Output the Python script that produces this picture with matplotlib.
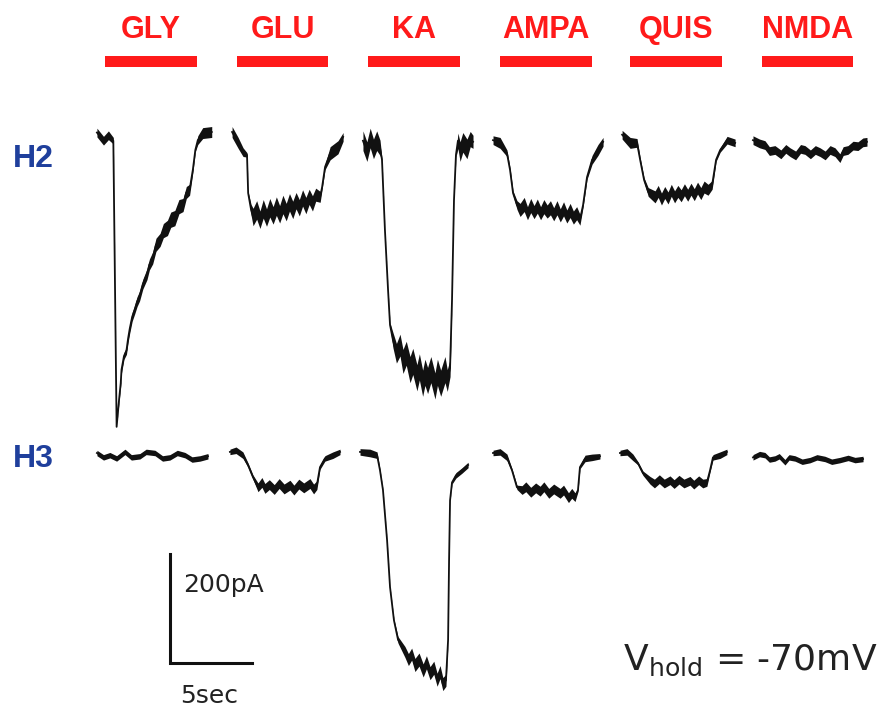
"""Whole-cell currents of H2 / H3 cells to glutamate agonists (Vhold = -70 mV)."""
import matplotlib
matplotlib.use("Agg")
import matplotlib.pyplot as plt
import numpy as np

DRUGS = ["GLY", "GLU", "KA", "AMPA", "QUIS", "NMDA"]
ROWS = ["H2", "H3"]
ROW_OFFSET = [0, -582]          # pA, vertical spacing between rows

# application bars (s)
BAR_START = [6.40, 14.45, 22.44, 30.49, 38.41, 46.46]
BAR_END = [12.01, 20.00, 28.05, 36.10, 44.02, 52.01]

# trace start times (s)
START_H2 = [5.91, 14.15, 22.07, 30.06, 37.93, 45.91]
START_H3 = [5.91, 14.02, 21.95, 30.06, 37.80, 45.91]

# H2 traces: time (s), current (pA), noise half-width (pA)
GLY_H2_T = [0, 0.4, 0.7, 1.0, 1.2, 1.35, 1.45, 1.5, 1.65, 1.8, 1.9, 2.0, 2.15, 2.3, 2.45, 2.6, 2.8,
            3.05, 3.2, 3.4, 3.6, 3.85, 4.05, 4.3, 4.5, 4.75, 5.0, 5.25, 5.45, 5.65, 5.85, 6.0, 6.15, 6.45, 7.0]
GLY_H2_I = [10, -5, 5, -5, -530, -480, -450, -425, -400, -390, -368, -350, -328, -315, -300, -290, -268,
            -250, -232, -220, -196, -187, -170, -165, -150, -147, -126, -123, -100, -95, -58, -22, -4, 9, 11]
GLY_H2_N = [8, 8, 8, 6, 0, 4, 5, 6, 6, 7, 7, 8, 8, 8, 9, 9, 9,
            10, 10, 11, 12, 12, 13, 14, 14, 14, 13, 12, 11, 10, 5, 3, 8, 10, 10]

GLU_H2_T = [0, 0.37, 0.67, 0.91, 0.98, 1.16, 1.28, 1.5, 1.7, 1.9, 2.1, 2.3, 2.5, 2.7, 2.9, 3.1, 3.3,
            3.5, 3.7, 3.9, 4.1, 4.3, 4.5, 4.7, 4.9, 5.1, 5.37, 5.49, 5.67, 5.98, 6.46, 6.77]
GLU_H2_I = [11, -9, -26, -31, -101, -132, -145, -132, -150, -130, -146, -128, -142, -125, -140, -122, -136,
            -118, -132, -115, -128, -110, -124, -108, -120, -104, -108, -90, -53, -28, -17, 2]
GLU_H2_N = [10, 10, 8, 4, 2, 10, 16, 17, 16, 17, 16, 17, 16, 17, 16, 17, 16,
            16, 16, 15, 15, 15, 15, 14, 14, 12, 10, 4, 5, 12, 12, 8]

KA_H2_T = [0.06, 0.3, 0.5, 0.7, 0.9, 1.10, 1.22, 1.40, 1.59, 1.71, 1.89, 2.1, 2.32, 2.5, 2.7, 2.93, 3.1,
           3.35, 3.5, 3.7, 3.84, 4.0, 4.2, 4.45, 4.6, 4.8, 5.06, 5.2, 5.37, 5.49, 5.61, 5.73, 5.85, 5.98,
           6.15, 6.40, 6.6, 6.77]
KA_H2_I = [-5, -25, 0, -20, -5, -18, -40, -169, -279, -343, -371, -395, -380, -410, -395, -425, -410,
           -440, -420, -450, -430, -445, -425, -455, -430, -450, -425, -445, -422, -297, -114, -31, -5, -25,
           -8, -20, -2, -7]
KA_H2_N = [18, 18, 18, 18, 18, 14, 2, 1, 1, 4, 14, 18, 20, 22, 22, 24, 24,
           24, 24, 24, 24, 24, 24, 24, 24, 24, 24, 20, 16, 2, 1, 4, 14, 18,
           18, 18, 14, 12]

AMPA_H2_T = [0, 0.43, 0.85, 1.04, 1.22, 1.46, 1.65, 1.9, 2.1, 2.3, 2.5, 2.7, 2.9, 3.1, 3.3, 3.5, 3.7,
             3.9, 4.1, 4.3, 4.5, 4.7, 4.9, 5.1, 5.30, 5.49, 5.73, 6.04, 6.40, 6.71]
AMPA_H2_I = [-4, -9, -28, -59, -101, -123, -132, -122, -138, -124, -136, -125, -138, -126, -135, -128, -140,
             -128, -142, -130, -144, -133, -146, -138, -150, -123, -72, -40, -22, -7]
AMPA_H2_N = [8, 10, 6, 4, 4, 8, 12, 13, 12, 13, 12, 13, 12, 13, 12, 13, 12,
             13, 12, 13, 12, 13, 12, 12, 10, 4, 4, 8, 10, 8]

QUIS_H2_T = [0, 0.49, 0.91, 1.10, 1.34, 1.59, 2.01, 2.2, 2.4, 2.6, 2.8, 3.0, 3.2, 3.4, 3.6, 3.8, 4.0,
             4.2, 4.4, 4.6, 4.8, 5.0, 5.24, 5.49, 5.73, 5.98, 6.40, 6.89]
QUIS_H2_I = [6, -9, -9, -40, -77, -99, -108, -98, -112, -100, -110, -96, -108, -98, -106, -95, -105,
             -94, -104, -92, -102, -90, -95, -86, -40, -22, -4, -9]
QUIS_H2_N = [8, 10, 8, 4, 4, 8, 11, 11, 11, 11, 11, 11, 11, 11, 11, 11, 11,
             11, 11, 11, 11, 11, 10, 8, 3, 4, 7, 7]

NMDA_H2_T = [0, 0.4, 0.73, 1.0, 1.34, 1.7, 2.0, 2.26, 2.6, 2.9, 3.17, 3.5, 3.8, 4.09, 4.4, 4.7, 5.0,
             5.30, 5.5, 5.79, 6.1, 6.40, 6.7, 6.95]
NMDA_H2_I = [-4, -10, -13, -24, -22, -30, -20, -26, -32, -20, -22, -30, -22, -26, -32, -22, -26,
             -37, -24, -22, -14, -15, -8, -7]
NMDA_H2_N = [8] * 24

# H3 traces
GLY_H3_T = [0, 0.4, 0.79, 1.2, 1.71, 2.1, 2.62, 3.0, 3.54, 4.0, 4.45, 4.9, 5.37, 5.8, 6.28, 6.77]
GLY_H3_I = [4, -4, 0, -6, 6, -4, -2, 6, 4, -6, -4, 4, 0, -8, -6, -2]
GLY_H3_N = [5] * 16

GLU_H3_T = [0, 0.37, 0.79, 1.10, 1.40, 1.71, 1.95, 2.13, 2.4, 2.7, 3.0, 3.3, 3.66, 3.9, 4.2, 4.5,
            4.88, 5.1, 5.30, 5.49, 5.79, 6.28, 6.71]
GLU_H3_I = [6, 9, 0, -18, -40, -59, -50, -61, -54, -63, -52, -62, -55, -64, -53, -60,
            -52, -62, -55, -22, -6, 0, 6]
GLU_H3_N = [5, 6, 6, 4, 4, 8, 9, 9, 9, 9, 9, 9, 9, 9, 9, 9,
            9, 9, 8, 4, 5, 6, 5]

KA_H3_T = [0, 0.61, 1.04, 1.22, 1.40, 1.65, 1.83, 2.07, 2.32, 2.74, 2.95, 3.15, 3.35, 3.6, 3.85, 4.05,
           4.27, 4.5, 4.7, 4.88, 5.05, 5.24, 5.37, 5.43, 5.49, 5.61, 5.85, 6.22, 6.59]
KA_H3_I = [6, 4, 0, -28, -64, -156, -242, -303, -339, -361, -375, -365, -385, -375, -395, -380,
           -400, -390, -412, -398, -420, -413, -339, -193, -83, -50, -37, -28, -18]
KA_H3_N = [6, 7, 6, 2, 1, 1, 1, 2, 6, 10, 11, 11, 12, 12, 12, 12,
           12, 12, 12, 12, 12, 11, 1, 1, 1, 3, 5, 5, 5]

AMPA_H3_T = [0, 0.43, 0.85, 1.16, 1.46, 1.77, 2.0, 2.3, 2.6, 2.87, 3.1, 3.4, 3.7, 4.09, 4.3, 4.6,
             4.8, 5.0, 5.18, 5.30, 5.61, 6.04, 6.52]
AMPA_H3_I = [4, 6, -4, -28, -59, -64, -58, -68, -60, -66, -58, -70, -62, -70, -64, -78,
             -70, -77, -64, -22, -6, -4, -2]
AMPA_H3_N = [5, 6, 6, 3, 4, 8, 9, 9, 9, 9, 9, 9, 9, 9, 9, 9,
             9, 8, 3, 3, 6, 6, 5]

QUIS_H3_T = [0, 0.43, 0.79, 1.10, 1.40, 1.83, 2.1, 2.4, 2.7, 3.05, 3.3, 3.6, 3.9, 4.27, 4.5, 4.8,
             5.05, 5.30, 5.49, 5.67, 6.10, 6.52]
QUIS_H3_I = [4, 6, -4, -15, -33, -46, -52, -44, -52, -46, -53, -45, -52, -47, -54, -46,
             -52, -50, -28, -4, 0, 6]
QUIS_H3_N = [5, 6, 6, 3, 4, 7, 8, 8, 8, 8, 8, 8, 8, 8, 8, 8,
             8, 7, 3, 5, 6, 5]

NMDA_H3_T = [0, 0.4, 0.73, 1.0, 1.34, 1.6, 1.95, 2.2, 2.56, 3.0, 3.48, 3.9, 4.39, 4.8, 5.30, 5.8,
             6.22, 6.71]
NMDA_H3_I = [-4, 2, 0, -8, -6, -2, -13, -4, -6, -12, -9, -4, -7, -12, -9, -5, -9, -7]
NMDA_H3_N = [5] * 18

SCALE_T = 5      # s
SCALE_I = 200    # pA

RED = "#ff1a1a"
BLUE = "#1f3f9c"
INK = "#111111"

H2_TRACES = [
    (GLY_H2_T, GLY_H2_I, GLY_H2_N),
    (GLU_H2_T, GLU_H2_I, GLU_H2_N),
    (KA_H2_T, KA_H2_I, KA_H2_N),
    (AMPA_H2_T, AMPA_H2_I, AMPA_H2_N),
    (QUIS_H2_T, QUIS_H2_I, QUIS_H2_N),
    (NMDA_H2_T, NMDA_H2_I, NMDA_H2_N),
]
H3_TRACES = [
    (GLY_H3_T, GLY_H3_I, GLY_H3_N),
    (GLU_H3_T, GLU_H3_I, GLU_H3_N),
    (KA_H3_T, KA_H3_I, KA_H3_N),
    (AMPA_H3_T, AMPA_H3_I, AMPA_H3_N),
    (QUIS_H3_T, QUIS_H3_I, QUIS_H3_N),
    (NMDA_H3_T, NMDA_H3_I, NMDA_H3_N),
]


def draw_trace(ax, start, offset, t, i, n):
    t = start + np.asarray(t, float)
    i = offset + np.asarray(i, float)
    n = np.asarray(n, float)
    ax.fill_between(t, i - n, i + n, color=INK, lw=0)
    ax.plot(t, i, color=INK, lw=1.3, solid_joinstyle="round")


def main():
    fig = plt.figure(figsize=(8.86, 7.11), dpi=100)
    ax = fig.add_axes([0, 0, 1, 1])
    ax.set_xlim(0, 54.02)
    ax.set_ylim(-1051.4, 253.2)
    ax.axis("off")

    # drug application bars and names
    for name, s, e in zip(DRUGS, BAR_START, BAR_END):
        ax.broken_barh([(s, e - s)], (130, 20), facecolors=RED)
        ax.text((s + e) / 2, 183.5, name, color=RED, fontsize=22,
                fontweight="bold", family=["Liberation Sans", "DejaVu Sans"],
                ha="center", va="baseline")

    for start, tr in zip(START_H2, H2_TRACES):
        draw_trace(ax, start, ROW_OFFSET[0], *tr)
    for start, tr in zip(START_H3, H3_TRACES):
        draw_trace(ax, start, ROW_OFFSET[1], *tr)

    for row, base in zip(ROWS, [-53, -604]):
        ax.text(0.79, base, row, color=BLUE, fontsize=23, fontweight="bold",
                family=["Liberation Sans", "DejaVu Sans"], va="baseline")

    # scale bar
    x0, y0 = 10.37, -963
    ax.plot([x0, x0, x0 + SCALE_T], [y0 + SCALE_I, y0, y0],
            color=INK, lw=2.2, solid_joinstyle="miter")
    ax.text(11.16, -833, f"{SCALE_I}pA", fontsize=18, color="#222222",
            va="baseline")
    ax.text(10.98, -1037, f"{SCALE_T}sec", fontsize=18, color="#222222",
            va="baseline")

    ax.text(53.5, -976, r"$\mathregular{V_{hold}}$ = -70mV", fontsize=26,
            color="#222222", ha="right", va="baseline")

    fig.savefig("out.png", dpi=100)
    plt.close(fig)


if __name__ == "__main__":
    main()
